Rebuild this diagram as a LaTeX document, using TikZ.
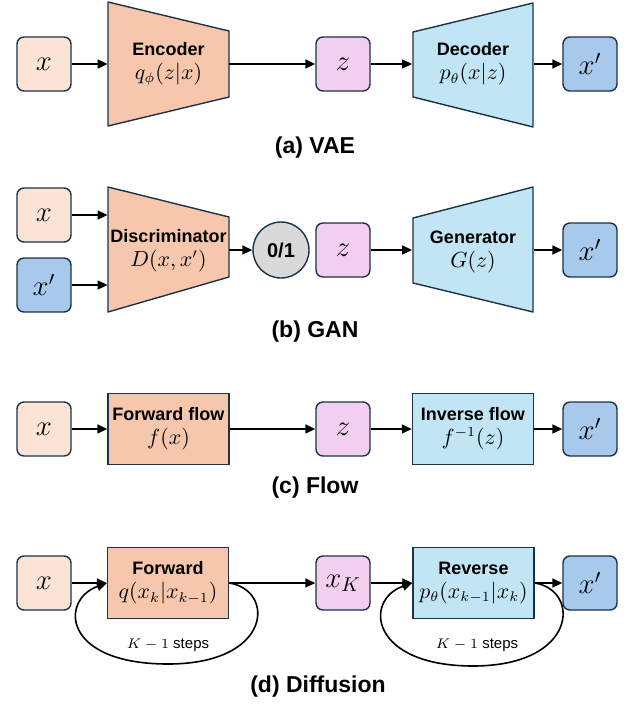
\documentclass[tikz,border=0pt]{standalone}
\usepackage{fontspec}
\setmainfont{Liberation Sans}
\usetikzlibrary{arrows.meta}

\newcommand\fmath[1]{{\fontsize{10.5}{12}\selectfont$#1$}}

\tikzset{
    box/.style={draw=edgecol, line width=0.7pt, rounded corners=3.5pt, minimum size=27pt, inner sep=0pt, font=\fontsize{14}{16}\selectfont},
    blk/.style={draw=edgecol, line width=0.7pt, minimum width=60.5pt, minimum height=35.5pt, inner sep=0pt, align=center, font=\fontsize{9}{12}\selectfont},
    hold/.style={minimum width=60.5pt, minimum height=30pt, inner sep=0pt, align=center, font=\fontsize{9}{12}\selectfont},
    funnel/.style={draw=edgecol, line width=0.7pt, line join=round},
    arr/.style={-{Triangle[length=5pt,width=4.5pt]}, line width=0.8pt},
    subcap/.style={font=\fontsize{11.5}{14}\selectfont\bfseries},
    steps/.style={font=\fontsize{7.5}{9}\selectfont}
}

\begin{document}
\begin{tikzpicture}[x=0.5pt,y=-0.5pt]
        % Define colors
        \definecolor{edgecol}{HTML}{1B3347}
        \definecolor{incolor}{HTML}{FBE3D6}
        \definecolor{fwdcolor}{HTML}{F6C6AD}
        \definecolor{latcolor}{HTML}{F2CEEF}
        \definecolor{bwdcolor}{HTML}{C1E5F5}
        \definecolor{outcolor}{HTML}{A6C9EC}
        \definecolor{bitcolor}{HTML}{D9D9D9}
        \useasboundingbox (0,0) rectangle (628,707);

        % (a) VAE
        \begin{scope}[shift={(0,64)}]
            \filldraw[funnel, fill=fwdcolor] (108,-62) -- (229,-33) -- (229,33) -- (108,62) -- cycle;
            \filldraw[funnel, fill=bwdcolor] (413,-32) -- (533,-61) -- (533,63) -- (413,33) -- cycle;

            \node[box, fill=incolor] (xa) at (44,0) {$x$};
            \node[hold] (enc) at (168.5,0) {\textbf{Encoder}\\ \fmath{q_\phi(z|x)}};
            \node[box, fill=latcolor] (za) at (343,0) {$z$};
            \node[hold] (dec) at (473,0) {\textbf{Decoder}\\ \fmath{p_\theta(x|z)}};
            \node[box, fill=outcolor] (xpa) at (590,0) {$x'$};

            \draw[arr] (xa) -- (enc);
            \draw[arr] (enc) -- (za);
            \draw[arr] (za) -- (dec);
            \draw[arr] (dec) -- (xpa);

            \node[subcap] (capa) at (315,84) {(a) VAE};
        \end{scope}

        % (b) GAN
        \begin{scope}[shift={(0,250)}]
            \filldraw[funnel, fill=fwdcolor] (108,-63) -- (229,-33) -- (229,27) -- (108,62) -- cycle;
            \filldraw[funnel, fill=bwdcolor] (413,-32) -- (533,-63) -- (533,62) -- (413,33) -- cycle;

            \node[box, fill=incolor] (xb) at (44,-35) {$x$};
            \node[box, fill=outcolor] (xpb) at (44,35) {$x'$};
            \node[hold] (disc) at (168.5,1) {\textbf{Discriminator}\\ \fmath{D(x,x')}};
            \node[circle, draw=edgecol, line width=0.7pt, fill=bitcolor, minimum size=28pt, inner sep=0pt,
                font=\fontsize{10}{12}\selectfont\bfseries] (bit) at (281,0) {0/1};
            \node[box, fill=latcolor] (zb) at (343,0) {$z$};
            \node[hold] (gen) at (473,2) {\textbf{Generator}\\ \fmath{G(z)}};
            \node[box, fill=outcolor] (xpo) at (590,0) {$x'$};

            \draw[arr] (xb) -- (xb -| disc.west);
            \draw[arr] (xpb) -- (xpb -| disc.west);
            \draw[arr] (disc.east |- bit) -- (bit);
            \draw[arr] (zb) -- (zb -| gen.west);
            \draw[arr] (gen.east |- xpo) -- (xpo);

            \node[subcap] (capb) at (315,82) {(b) GAN};
        \end{scope}

        % (c) Flow
        \begin{scope}[shift={(0,429)}]
            \node[box, fill=incolor] (xc) at (44,0) {$x$};
            \node[blk, fill=fwdcolor] (ffl) at (168.5,0) {\textbf{Forward flow}\\ \fmath{f(x)}};
            \node[box, fill=latcolor] (zc) at (343,0) {$z$};
            \node[blk, fill=bwdcolor] (ifl) at (473,0) {\textbf{Inverse flow}\\ \fmath{f^{-1}(z)}};
            \node[box, fill=outcolor] (xpc) at (590,0) {$x'$};

            \draw[arr] (xc) -- (ffl);
            \draw[arr] (ffl) -- (zc);
            \draw[arr] (zc) -- (ifl);
            \draw[arr] (ifl) -- (xpc);

            \node[subcap] (capc) at (315,59) {(c) Flow};
        \end{scope}

        % (d) Diffusion
        \begin{scope}[shift={(0,583)}]
            \node[box, fill=incolor] (xd) at (44,0) {$x$};
            \node[blk, fill=fwdcolor] (fwd) at (168,0) {\textbf{Forward}\\ \fmath{q(x_k|x_{k-1})}};
            \node[box, fill=latcolor] (xk) at (343,0) {$x_K$};
            \node[blk, fill=bwdcolor] (rev) at (473.5,0) {\textbf{Reverse}\\ \fmath{p_\theta(x_{k-1}|x_k)}};
            \node[box, fill=outcolor] (xpd) at (590,0) {$x'$};

            \draw[arr] (xd) -- (fwd);
            \draw[arr] (fwd) -- (xk);
            \draw[arr] (xk) -- (rev);
            \draw[arr] (rev) -- (xpd);

            % Loops
            \coordinate (fwdlow) at (168,81);
            \coordinate (revlow) at (473,83);
            \draw[arr] (fwd.east) .. controls +(46,7) and +(105,0) .. (fwdlow)
                .. controls +(-106,0) and +(-47,17) .. (fwd.west);
            \draw[arr] (rev.east) .. controls +(46,7) and +(105,0) .. (revlow)
                .. controls +(-103,0) and +(-49,17) .. (rev.west);
            \node[steps] (fwdk) at (168,62) {$K-1$ steps};
            \node[steps] (revk) at (477,62) {$K-1$ steps};

            \node[subcap] (capd) at (318,104) {(d) Diffusion};
        \end{scope}
    \end{tikzpicture}
\end{document}
